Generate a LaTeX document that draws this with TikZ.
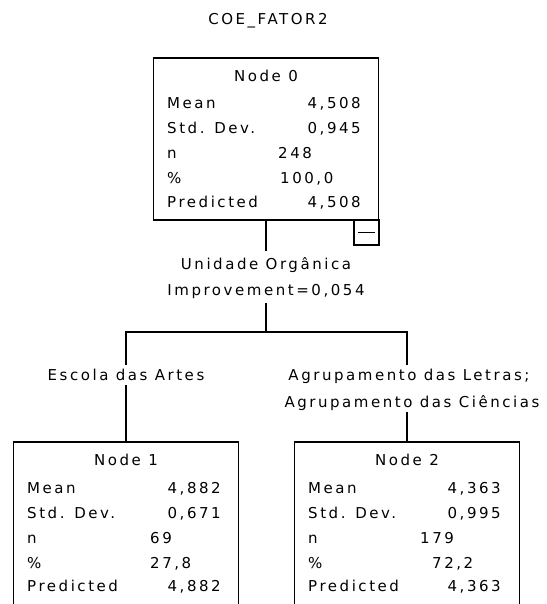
\documentclass[tikz,border=0pt]{standalone}
\usepackage{fontspec}
\usepackage{tikz}
\newfontfamily\treefont[LetterSpace=17]{DejaVu Sans}

\tikzset{
  txt/.style={inner sep=0pt, font=\treefont\fontsize{15}{17}\selectfont, text height=10.5pt, text depth=0pt},
  lbl/.style={txt, anchor=west},
  val/.style={txt, anchor=east},
  cnt/.style={txt, anchor=west},
  split/.style={txt, outer ysep=8pt},
  cat/.style={txt, outer ysep=5pt},
  treebox/.style={draw, line width=1.3pt, rectangle, inner sep=0pt, minimum width=225pt},
  link/.style={line width=1.3pt},
}

\begin{document}
\begin{tikzpicture}[x=1pt,y=-1pt]
\useasboundingbox (0,0) rectangle (546,604);
\clip (0,0) rectangle (546,604);

\node[txt] (title) at (268,19) {COE\_FATOR2};

% root node
\node[treebox, minimum height=162pt] (n0) at (266,139) {};
\node[treebox, minimum width=25pt, minimum height=25pt] (n0c) at (366.5,232.5) {};
\draw[line width=1.3pt] ([xshift=5pt]n0c.west)--([xshift=-5pt]n0c.east);
\node[txt] (n0h) at (266,76) {Node 0};
\node[lbl] (n0l1) at (167,103) {Mean};
\node[val] (n0v1) at (361,103) {4,508};
\node[lbl] (n0l2) at (167,128) {Std. Dev.};
\node[val] (n0v2) at (361,128) {0,945};
\node[lbl] (n0l3) at (167,153) {n};
\node[cnt] (n0v3) at (278,153) {248};
\node[lbl] (n0l4) at (167,178) {\%};
\node[cnt] (n0v4) at (280,178) {100,0};
\node[lbl] (n0l5) at (167,202) {Predicted};
\node[val] (n0v5) at (361,202) {4,508};

% split
\node[split] (var0) at (266,264) {Unidade Orgânica};
\node[split] (imp0) at (266,290) {Improvement=0,054};
\coordinate (j0) at (266,332);
\node[cat] (cat1) at (126,375) {Escola das Artes};
\node[cat] (cat2a) at (409,375) {Agrupamento das Letras;};
\node[cat] (cat2b) at (412,402) {Agrupamento das Ciências};

% child nodes
\node[treebox, minimum height=200pt] (n1) at (126,542) {};
\node[txt] (n1h) at (126,460) {Node 1};
\node[lbl] (n1l1) at (27,488) {Mean};
\node[val] (n1v1) at (221,488) {4,882};
\node[lbl] (n1l2) at (27,513) {Std. Dev.};
\node[val] (n1v2) at (221,513) {0,671};
\node[lbl] (n1l3) at (27,538) {n};
\node[cnt] (n1v3) at (150,538) {69};
\node[lbl] (n1l4) at (27,563) {\%};
\node[cnt] (n1v4) at (150,563) {27,8};
\node[lbl] (n1l5) at (27,586) {Predicted};
\node[val] (n1v5) at (221,586) {4,882};

\node[treebox, minimum height=200pt] (n2) at (407,542) {};
\node[txt] (n2h) at (407,460) {Node 2};
\node[lbl] (n2l1) at (308,488) {Mean};
\node[val] (n2v1) at (501,488) {4,363};
\node[lbl] (n2l2) at (308,513) {Std. Dev.};
\node[val] (n2v2) at (501,513) {0,995};
\node[lbl] (n2l3) at (308,538) {n};
\node[cnt] (n2v3) at (420,538) {179};
\node[lbl] (n2l4) at (308,563) {\%};
\node[cnt] (n2v4) at (432,563) {72,2};
\node[lbl] (n2l5) at (308,586) {Predicted};
\node[val] (n2v5) at (501,586) {4,363};

% branches
\draw[link] (n0.south)--(var0.north);
\draw[link] (imp0.south)--(j0);
\draw[link] (cat1.north)|-(j0)-|(n2.north|-cat2a.north);
\draw[link] (cat1.south)--(n1.north-|cat1);
\draw[link] (n2.north|-cat2b.south)--(n2.north);
\end{tikzpicture}
\end{document}
